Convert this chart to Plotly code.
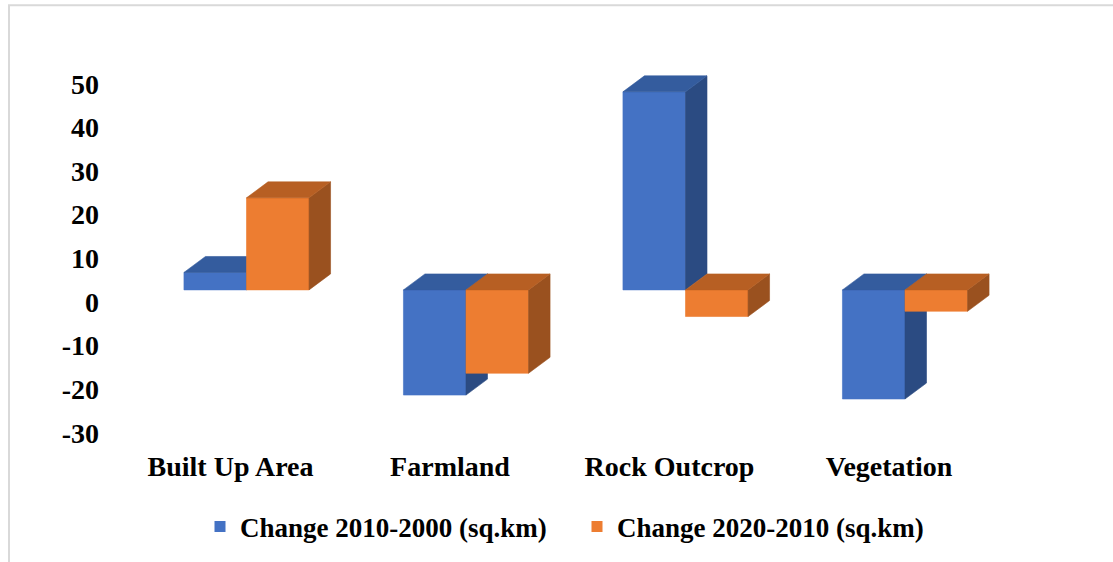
import plotly.graph_objects as go

# ---- data ----
categories = ["Built Up Area", "Farmland", "Rock Outcrop", "Vegetation"]
change_2010_2000 = [4.0, -24.1, 45.4, -25.0]
change_2020_2010 = [21.1, -19.1, -6.1, -4.9]
series_names = ["Change 2010-2000 (sq.km)", "Change 2020-2010 (sq.km)"]
y_ticks = [-30, -20, -10, 0, 10, 20, 30, 40, 50]
y_tick_text = [str(v) for v in y_ticks]

# ---- styling / geometry constants ----
W, H = 1113, 562
L, R, T, B = 110, 1060, 60, 444          # plot area in pixels
PX_PER_CAT = 219.5
PX_PER_UNIT = 4.375
ZERO_PX = 290.5
GROUP_LEFT_PX = 246.5
BAR_W = 0.285                             # category units
DEPTH_X_PX, DEPTH_Y_PX = 21.5, 16.0

x_range = [(L - GROUP_LEFT_PX) / PX_PER_CAT, (R - GROUP_LEFT_PX) / PX_PER_CAT]
y_range = [(ZERO_PX - B) / PX_PER_UNIT, (ZERO_PX - T) / PX_PER_UNIT]
dx = DEPTH_X_PX / PX_PER_CAT
dy = DEPTH_Y_PX / PX_PER_UNIT

colors = [
    {"front": "#4472C4", "side": "#2B4B82", "top": "#345C9E"},
    {"front": "#ED7D31", "side": "#9A511F", "top": "#B75F23"},
]

FONT = "Liberation Serif, Times New Roman, serif"


def faces(values, offset):
    fx, fy, sx, sy, tx, ty = [], [], [], [], [], []
    for i, v in enumerate(values):
        x0 = i + offset
        x1 = x0 + BAR_W
        top = max(v, 0)
        bot = min(v, 0)
        fx += [x0, x1, x1, x0, x0, None]
        fy += [bot, bot, top, top, bot, None]
        sx += [x1, x1 + dx, x1 + dx, x1, x1, None]
        sy += [bot, bot + dy, top + dy, top, bot, None]
        tx += [x0, x1, x1 + dx, x0 + dx, x0, None]
        ty += [top, top, top + dy, top + dy, top, None]
    return (fx, fy), (sx, sy), (tx, ty)


fig = go.Figure()
for k, (vals, off) in enumerate([(change_2010_2000, -BAR_W), (change_2020_2010, 0.0)]):
    front, side, top = faces(vals, off)
    for (xs, ys), key in [(front, "front"), (side, "side"), (top, "top")]:
        c = colors[k][key]
        fig.add_trace(go.Scatter(
            x=xs, y=ys, mode="lines", fill="toself", fillcolor=c,
            line=dict(color=c, width=0.6), showlegend=False, hoverinfo="skip"))

# legend entries
for k, name in enumerate(series_names):
    fig.add_trace(go.Scatter(
        x=[None], y=[None], mode="markers", name=name,
        marker=dict(symbol="square", size=11, color=colors[k]["front"])))

fig.update_layout(
    width=W, height=H,
    margin=dict(l=L, r=W - R, t=T, b=H - B),
    paper_bgcolor="white", plot_bgcolor="white",
    font=dict(family=FONT, color="black"),
    xaxis=dict(range=x_range, tickvals=list(range(len(categories))), ticktext=categories,
               showgrid=False, zeroline=False, showline=False, ticks="",
               tickfont=dict(size=28, weight="bold"), ticklabelshift=-16,
               ticklabelstandoff=4),
    yaxis=dict(range=y_range, tickvals=y_ticks, ticktext=y_tick_text, showgrid=False,
               zeroline=False, showline=False, ticks="",
               tickfont=dict(size=28, weight="bold"),
               ticklabelshift=12, ticklabelstandoff=10),
    legend=dict(orientation="h", x=(577 - L) / (R - L), xanchor="center",
                y=(B - 527) / (B - T), yanchor="middle",
                entrywidth=332, entrywidthmode="pixels",
                font=dict(size=27, weight="bold")),
    shapes=[dict(type="rect", xref="paper", yref="paper",
                 x0=(9 - L) / (R - L), x1=(W + 20 - L) / (R - L),
                 y0=(B - H - 20) / (B - T), y1=(B - 5) / (B - T),
                 line=dict(color="#D9D9D9", width=2), fillcolor="rgba(0,0,0,0)",
                 layer="below")],
)

fig.write_html("out.html", config={"displayModeBar": False},
               post_script="document.body.style.margin='0';document.body.style.overflow='hidden';")
